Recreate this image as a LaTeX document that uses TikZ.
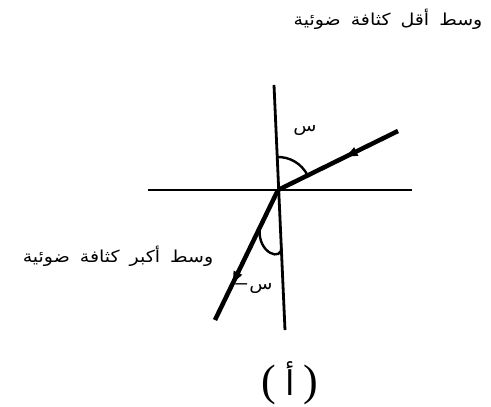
\documentclass[tikz,border=0pt]{standalone}
\usepackage{fontspec}
\setmainfont{Liberation Serif}
\newfontfamily\arabicfont[Script=Arabic,FakeStretch=1.15]{DejaVu Sans}
\newfontfamily\arabicplain[Script=Arabic]{DejaVu Sans}
\TeXXeTstate=1
\usetikzlibrary{arrows.meta,decorations.markings,calc}
\tikzset{
  axisline/.style={line width=2.8pt},
  ray/.style={line width=4.5pt},
  anglearc/.style={line width=2.4pt},
  midarrow/.style={postaction={decorate},decoration={markings,
     mark=at position #1 with {\arrow{Latex[length=15pt,width=10pt]}}}},
  artext/.style={font=\arabicfont\fontsize{16.5}{18}\selectfont, inner sep=0pt},
}
\begin{document}
\begin{tikzpicture}[x=1pt,y=-1pt]
\useasboundingbox (0,0) rectangle (491,407);
\coordinate (O) at (278,190);
\coordinate (Ntop) at (274,85);
\coordinate (Nbot) at (285,330);
\coordinate (Hl) at (148,190);
\coordinate (Hr) at (412,190);
\coordinate (I) at (398,131);
\coordinate (R) at (215,320);
% lines
\draw[axisline] (Ntop) -- (Nbot);
\draw[axisline] (Hl) -- (Hr);
\draw[ray,midarrow=0.46] (I) -- (O);
\draw[ray,midarrow=0.74] (O) -- (R);
% angle arcs
\draw[anglearc] ($(O)+(-26:33)$) arc[start angle=-26, end angle=-92, radius=33];
\coordinate (A1) at ($(O)!0.29!(R)$);
\coordinate (A2) at ($(Ntop)!0.66!(Nbot)$);
\draw[anglearc] (A1) .. controls (257,254) and (283,262) .. (A2);
% labels
\node[artext] (top) at (388,19) {\spaceskip=10pt\beginR وسط أقل كثافة ضوئية\endR};
\node[artext] (left) at (118,256) {\spaceskip=10pt\beginR وسط أكبر كثافة ضوئية\endR};
\node[artext] (s1) at (305,130) {س};
\node[artext] (s2) at (253,288) {س−};
\node[inner sep=0pt] (cap) at (290,383) {\fontsize{44}{46}\selectfont (\hspace{9pt}{\arabicplain\fontsize{34}{36}\selectfont أ}\hspace{9pt})};
\end{tikzpicture}
\end{document}
